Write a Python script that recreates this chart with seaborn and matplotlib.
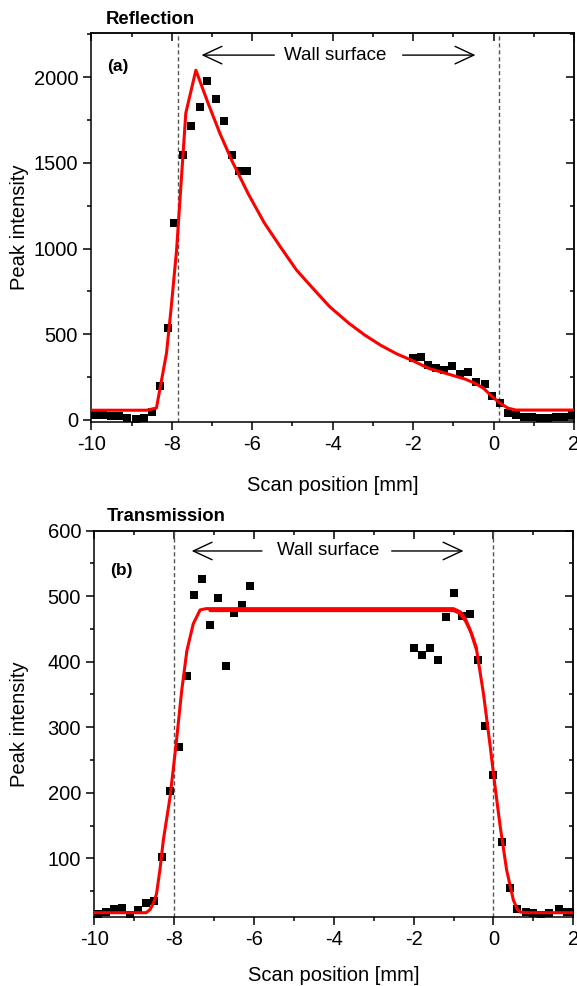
import numpy as np
import pandas as pd
import matplotlib
matplotlib.use("Agg")
import matplotlib.pyplot as plt
from matplotlib.ticker import MultipleLocator
import seaborn as sns

# ---------------- Reflection (a): measured peak intensity ----------------
refl_pos = [-9.9, -9.7, -9.5, -9.3, -9.1, -8.9, -8.7, -8.5, -8.3, -8.1,
            -7.95, -7.73, -7.51, -7.3, -7.12, -6.91, -6.71, -6.51, -6.33, -6.12,
            -2.0, -1.81, -1.62, -1.42, -1.23, -1.03, -0.83, -0.63, -0.43, -0.22,
            -0.03, 0.16, 0.36, 0.56, 0.76, 0.96, 1.16, 1.36, 1.56, 1.76, 1.96]
refl_int = [28, 27, 24, 22, 10, 8, 10, 45, 198, 537,
            1149, 1545, 1713, 1826, 1977, 1870, 1746, 1548, 1450, 1453,
            362, 366, 320, 306, 291, 316, 271, 281, 223, 209,
            141, 101, 42, 28, 20, 15, 10, 10, 15, 20, 28]

# Reflection model curve
refl_fit_pos = [-10.0, -8.62, -8.38, -8.13, -8.02, -7.88, -7.65, -7.40, -7.10, -6.80,
                -6.50, -6.10, -5.70, -5.30, -4.90, -4.50, -4.07, -3.60, -3.20, -2.80,
                -2.40, -2.00, -1.60, -1.10, -0.70, -0.47, -0.25, -0.05, 0.15, 0.35,
                0.55, 2.0]
refl_fit_int = [57, 57, 70, 390, 640, 990, 1790, 2040, 1850, 1670,
                1510, 1320, 1150, 1010, 875, 770, 660, 565, 495, 435,
                385, 345, 300, 266, 238, 215, 185, 140, 100, 70,
                58, 58]

# ---------------- Transmission (b): measured peak intensity ----------------
trans_pos = [-9.9, -9.7, -9.5, -9.3, -9.1, -8.9, -8.7, -8.5, -8.3, -8.1,
             -7.88, -7.68, -7.49, -7.3, -7.1, -6.9, -6.7, -6.5, -6.3, -6.1,
             -2.0, -1.79, -1.59, -1.39, -1.19, -0.99, -0.79, -0.6, -0.39, -0.2,
             0.0, 0.21, 0.42, 0.6, 0.81, 1.0, 1.2, 1.4, 1.63, 1.83, 2.0]
trans_int = [15, 18, 22, 24, 14, 21, 32, 35, 102, 203,
             270, 378, 502, 527, 456, 498, 393, 474, 487, 515,
             421, 411, 421, 402, 469, 505, 470, 473, 402, 302,
             227, 125, 55, 23, 18, 16, 14, 16, 23, 18, 18]

# Transmission model curves (full profile and plateau/right-edge fit)
trans_fit_pos = [-10.0, -8.7, -8.6, -8.5, -8.44, -8.35, -8.27, -8.10, -7.94, -7.81,
                 -7.68, -7.52, -7.35, -7.2, -1.0, -0.83, -0.7, -0.58, -0.42, -0.25,
                 -0.08, 0.04, 0.17, 0.33, 0.5, 0.6, 0.67, 0.8, 2.0]
trans_fit_int = [17, 17, 22, 34, 46, 85, 128, 194, 280, 356,
                 417, 458, 479, 481, 481, 476, 465, 448, 417, 351,
                 270, 209, 148, 82, 36, 22, 18, 17, 17]
edge_fit_pos = [-7.1, -1.0, -0.85, -0.7, -0.55, -0.42]
edge_fit_int = [478, 478, 474, 462, 443, 420]

sns.set_style("ticks")
plt.rcParams["font.family"] = ["Liberation Sans", "DejaVu Sans"]
plt.rcParams["axes.linewidth"] = 1.1
plt.rcParams["axes.unicode_minus"] = False
plt.rcParams["text.color"] = "black"
plt.rcParams["axes.labelcolor"] = "black"
plt.rcParams["xtick.color"] = "black"
plt.rcParams["ytick.color"] = "black"

TICK_FS = 14.5
LABEL_FS = 14.5


def style_axes(ax, xmaj, xmin, ymaj, ymin):
    ax.xaxis.set_major_locator(MultipleLocator(xmaj))
    ax.xaxis.set_minor_locator(MultipleLocator(xmin))
    ax.yaxis.set_major_locator(MultipleLocator(ymaj))
    ax.yaxis.set_minor_locator(MultipleLocator(ymin))
    ax.tick_params(which="major", direction="out", length=6, width=1.1,
                   labelsize=TICK_FS, colors="black")
    ax.tick_params(which="minor", direction="out", length=3, width=1.1)
    for s in ax.spines.values():
        s.set_visible(True)
        s.set_color("black")
        s.set_linewidth(1.1)
    # mirrored ticks on top and right, pointing inwards
    top = ax.secondary_xaxis("top")
    top.xaxis.set_major_locator(MultipleLocator(xmaj))
    top.xaxis.set_minor_locator(MultipleLocator(xmin))
    top.tick_params(which="major", direction="in", length=6, width=1.1, labeltop=False)
    top.tick_params(which="minor", direction="in", length=3, width=1.1)
    right = ax.secondary_yaxis("right")
    right.yaxis.set_major_locator(MultipleLocator(ymaj))
    right.yaxis.set_minor_locator(MultipleLocator(ymin))
    right.tick_params(which="major", direction="in", length=6, width=1.1, labelright=False)
    right.tick_params(which="minor", direction="in", length=3, width=1.1)


def wall_arrows(ax, y, left_tip, left_tail, text_x, right_tail, right_tip):
    props = dict(arrowstyle="->,head_length=0.9,head_width=0.42", lw=1.0,
                 color="black", shrinkA=0, shrinkB=0, mutation_scale=15)
    ax.annotate("", xy=(left_tip, y), xytext=(left_tail, y), arrowprops=props)
    ax.annotate("", xy=(right_tip, y), xytext=(right_tail, y), arrowprops=props)
    ax.text(text_x, y, "Wall surface", ha="center", va="center", fontsize=13.5,
            color="black")


fig = plt.figure(figsize=(5.77, 9.86), dpi=100)
ax1 = fig.add_axes([0.1582, 0.5723, 0.8366, 0.3939])
ax2 = fig.add_axes([0.1634, 0.0697, 0.8302, 0.3921])

# ---- panel (a) ----
ax1.axvline(-7.84, color="#555555", lw=1.0, ls=(0, (3, 2)), zorder=1)
ax1.axvline(0.13, color="#555555", lw=1.0, ls=(0, (3, 2)), zorder=1)
sns.scatterplot(x=refl_pos, y=refl_int, ax=ax1, marker="s", s=30, color="black",
                linewidth=0, zorder=3)
sns.lineplot(x=refl_fit_pos, y=refl_fit_int, ax=ax1, color="red", lw=2.2,
             sort=False, estimator=None, zorder=4)
ax1.set_xlim(-10, 2)
ax1.set_ylim(-10, 2255)
style_axes(ax1, 2, 1, 500, 250)
wall_arrows(ax1, 2128, -7.26, -5.45, -3.93, -2.26, -0.45)
ax1.text(-9.61, 2064, "(a)", fontsize=12.5, fontweight="bold", ha="left", va="center",
         color="black")
ax1.annotate("Reflection", xy=(0.03, 1.0), xycoords="axes fraction",
             xytext=(0, 7), textcoords="offset points", ha="left", va="baseline",
             fontsize=13.3, fontweight="bold", color="black")
ax1.set_xlabel("Scan position [mm]", fontsize=LABEL_FS, color="black")
ax1.set_ylabel("Peak intensity", fontsize=LABEL_FS, color="black")
ax1.xaxis.set_label_coords(0.5, -0.14)
ax1.yaxis.set_label_coords(-0.13, 0.5)

# ---- panel (b) ----
ax2.axvline(-8.0, color="#555555", lw=1.0, ls=(0, (3, 2)), zorder=1)
ax2.axvline(0.0, color="#555555", lw=1.0, ls=(0, (3, 2)), zorder=1)
sns.scatterplot(x=trans_pos, y=trans_int, ax=ax2, marker="s", s=30, color="black",
                linewidth=0, zorder=3)
sns.lineplot(x=trans_fit_pos, y=trans_fit_int, ax=ax2, color="red", lw=2.2,
             sort=False, estimator=None, zorder=4)
sns.lineplot(x=edge_fit_pos, y=edge_fit_int, ax=ax2, color="red", lw=2.2,
             sort=False, estimator=None, zorder=4)
ax2.set_xlim(-10, 2)
ax2.set_ylim(10, 600)
style_axes(ax2, 2, 1, 100, 50)
wall_arrows(ax2, 569, -7.56, -5.80, -4.13, -2.55, -0.75)
ax2.text(-9.6, 539, "(b)", fontsize=12.5, fontweight="bold", ha="left", va="center",
         color="black")
ax2.annotate("Transmission", xy=(0.025, 1.0), xycoords="axes fraction",
             xytext=(0, 7), textcoords="offset points", ha="left", va="baseline",
             fontsize=13.3, fontweight="bold", color="black")
ax2.set_xlabel("Scan position [mm]", fontsize=LABEL_FS, color="black")
ax2.set_ylabel("Peak intensity", fontsize=LABEL_FS, color="black")
ax2.xaxis.set_label_coords(0.5, -0.125)
ax2.yaxis.set_label_coords(-0.137, 0.5)

fig.savefig("out.png", dpi=100)
